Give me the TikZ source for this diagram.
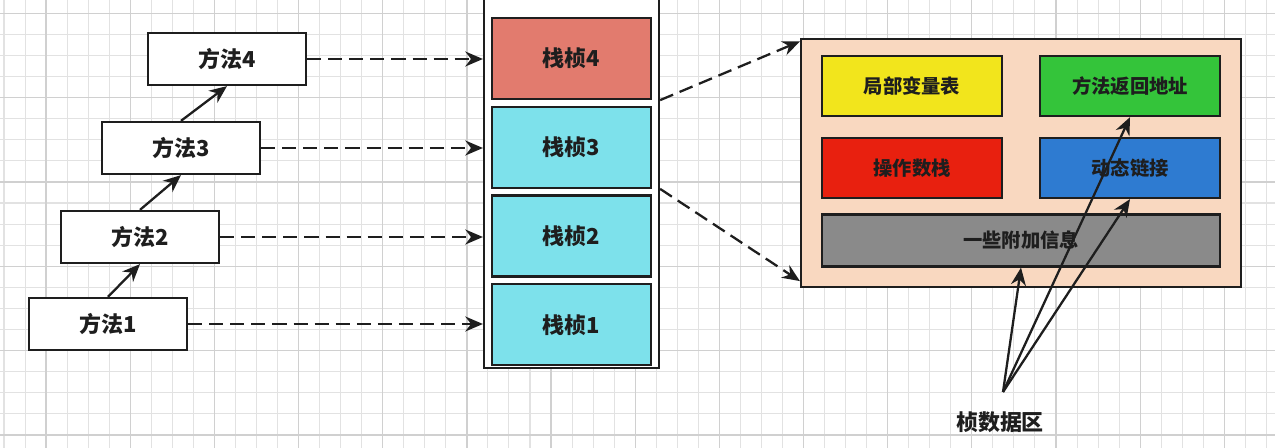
\documentclass[tikz,border=0pt]{standalone}
\usepackage{fontspec}
\usepackage{xcolor}
\usepackage{tikz}
\usetikzlibrary{arrows.meta,positioning,calc}
\newfontfamily\cjk{Noto Sans CJK SC}
\definecolor{ink}{HTML}{1E1E1E}
\definecolor{salmon}{HTML}{E27B6E}
\definecolor{aqua}{HTML}{7DE1EB}
\definecolor{peach}{HTML}{F9D8C0}
\definecolor{lemon}{HTML}{F2E51C}
\definecolor{leaf}{HTML}{34C43A}
\definecolor{scarlet}{HTML}{E8200F}
\definecolor{ocean}{HTML}{2E7BD1}
\definecolor{slate}{HTML}{8A8A8A}
\definecolor{gridminor}{HTML}{E2E2E2}
\definecolor{gridmajor}{HTML}{D0D0D0}
\tikzset{
  methodbox/.style={
    rectangle, draw=ink, fill=white, line width=1.3pt,
    minimum width=3.16cm, minimum height=1.04cm,
    font=\cjk\bfseries\fontsize{12.5}{14}\selectfont, text=ink,
    inner sep=0pt
  },
  framebox/.style={
    rectangle, draw=ink, fill=#1, line width=1.3pt,
    minimum width=3.18cm, minimum height=1.62cm,
    font=\cjk\bfseries\fontsize{12.5}{14}\selectfont, text=ink,
    inner sep=0pt
  },
  framebox/.default=aqua,
  stackbox/.style={rectangle, draw=ink, fill=white, line width=1.3pt,
    minimum width=3.5cm, minimum height=7.56cm},
  databox/.style={rectangle, draw=ink, fill=peach, line width=1.3pt,
    minimum width=8.8cm, minimum height=4.96cm},
  slotbox/.style={
    rectangle, draw=ink, fill=#1, line width=1.3pt,
    minimum width=3.6cm, minimum height=1.2cm,
    font=\cjk\bfseries\fontsize{11}{13}\selectfont, text=ink,
    inner sep=0pt
  },
  slotbox/.default=slate,
  callarrow/.style={
    -{Stealth[length=10pt,width=8.5pt]}, line width=1.3pt, draw=ink
  },
  dataarrow/.style={
    callarrow, dash pattern=on 8pt off 4pt
  },
}

\begin{document}
\begin{tikzpicture}[x=0.02cm, y=-0.02cm]
\useasboundingbox (0,0) rectangle (1275,448);
\fill[white] (0,0) rectangle (1275,448);
\clip (0,0) rectangle (1275,448);
\foreach \i in {0,...,60}
  \draw[gridminor, line width=0.6pt] ({4+21.04*\i},0) -- ({4+21.04*\i},448);
\foreach \j in {0,...,21}
  \draw[gridminor, line width=0.6pt] (0,{13.3+21.08*\j}) -- (1275,{13.3+21.08*\j});
\foreach \i in {0,...,15}
  \draw[gridmajor, line width=0.7pt] ({46.1+84.16*\i},0) -- ({46.1+84.16*\i},448);
\foreach \j in {0,...,5}
  \draw[gridmajor, line width=0.7pt] (0,{13.3+84.32*\j}) -- (1275,{13.3+84.32*\j});

\node[methodbox] (m4) at (227,59) {方法4};
\node[methodbox] (m3) at (181,148) {方法3};
\node[methodbox] (m2) at (140,237) {方法2};
\node[methodbox] (m1) at (108,324) {方法1};

\node[stackbox] (stack) at (571.5,179) {};
\node[framebox=salmon] (f4) at (571.5,58.5) {栈桢4};
\node[framebox, below=0.11cm of f4] (f3) {栈桢3};
\node[framebox, below=0.11cm of f3] (f2) {栈桢2};
\node[framebox, below=0.11cm of f2] (f1) {栈桢1};

\node[databox] (data) at (1021,163) {};
\node[slotbox=lemon] (locals) at (912,86) {局部变量表};
\node[slotbox=leaf] (ret) at (1130,86) {方法返回地址};
\node[slotbox=scarlet] (opstack) at (912,168) {操作数栈};
\node[slotbox=ocean] (dyn) at (1130,168) {动态链接};
\node[slotbox, minimum width=7.96cm, minimum height=1.04cm] (info) at (1021,240.5) {一些附加信息};

\node[font=\cjk\bfseries\fontsize{12.5}{14}\selectfont, text=ink] (area) at (1000,422) {桢数据区};
\coordinate (hub) at (1003,392);

\draw[callarrow] (m1.north) -- (m2.south);
\draw[callarrow] (m2.north) -- (m3.south);
\draw[callarrow] (m3.north) -- (m4.south);
\draw[dataarrow] (m4.east) -- (m4.east -| stack.west);
\draw[dataarrow] (m3.east) -- (m3.east -| stack.west);
\draw[dataarrow] (m2.east) -- (m2.east -| stack.west);
\draw[dataarrow] (m1.east) -- (m1.east -| stack.west);
\draw[dataarrow] (f4.south -| stack.east) -- ([yshift=-2pt]data.north west);
\draw[dataarrow] (f3.south -| stack.east) -- ([yshift=4pt]data.south west);
\draw[callarrow] (hub) -- (info.south);
\draw[callarrow] (hub) -- (ret.south);
\draw[callarrow] (hub) -- (dyn.south);
\end{tikzpicture}
\end{document}
